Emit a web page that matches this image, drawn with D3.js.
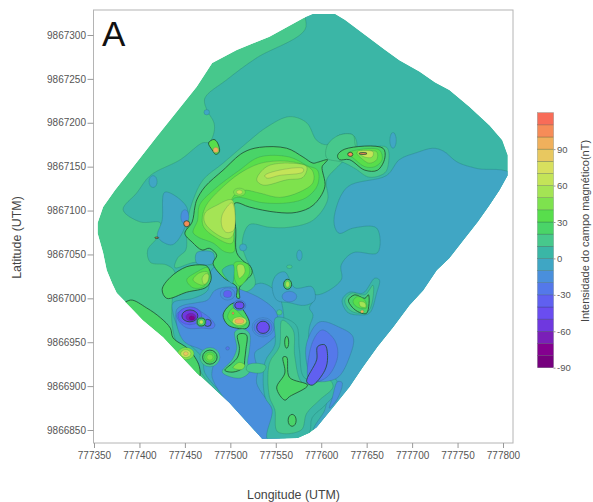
<!DOCTYPE html>
<html>
<head>
<meta charset="utf-8">
<script src="https://cdn.jsdelivr.net/npm/d3@7"></script>
<style>
  body { margin: 0; background: #fff; }
  text { font-family: "Liberation Sans", Arial, sans-serif; }
</style>
</head>
<body>
<div id="chart"></div>
<script>
// survey coordinates are kept as offsets from these two bases (metres UTM)
const eastBase = 777000, northBase = 9866000

const xTicks = [777350, 777400, 777450, 777500, 777550, 777600, 777650, 777700, 777750, 777800]
const yTicks = [9866850, 9866900, 9866950, 9867000, 9867050, 9867100, 9867150, 9867200, 9867250, 9867300]
const legendTicks = [-90, -60, -30, 0, 30, 60, 90]

// colour bands, 10 nT wide, named by their lower limit
const bandFloors = [-90, -80, -70, -60, -50, -40, -30, -20, -10, 0, 10, 20, 30, 40, 50, 60, 70, 80, 90, 100, 110]
const bandColors = ['#76007e', '#84008f', '#7a1fb8', '#6f38df', '#6a4df0', '#6060f0', '#5478ea', '#4a8fdc',
  '#3fa6c4', '#3ab6a6', '#47c88c', '#4ad468', '#58de4c', '#7ee24e', '#a4e454', '#c4e458',
  '#d8e05e', '#e8c860', '#f0b05c', '#f68c58', '#f86c58']

// survey outline
const outline = [[591,1324],[615,1324],[626,1317],[648,1300],[670,1283],[686,1271],[708,1258],[725,1246],[741,1237],
  [763,1218],[785,1197],[799,1180],[805,1163],[805,1140],[796,1123],[785,1106],[772,1087],[756,1066],[741,1046],
  [727,1032],[712,1009],[697,992],[679,967],[662,945],[646,922],[631,899],[613,876],[595,853],[587,847],[574,841],
  [535,840],[499,881],[463,915],[426,956],[404,975],[390,990],[375,1006],[370,1017],[364,1032],[360,1052],[354,1074],
  [354,1086],[360,1104],[373,1123],[419,1184],[463,1241],[480,1268],[507,1283],[543,1298],[580,1319]]

// contour rings, [east, north]
const tealMain = [[584,1334],[818,1334],[818,833],[535,833],[510,867],[472,909],[461,927],[442,947],[436,970],[436,996],
  [439,1030],[430,1038],[412,1041],[409,1055],[420,1070],[423,1086],[401,1087],[382,1101],[397,1120],[412,1140],
  [445,1158],[469,1177],[477,1178],[482,1189],[482,1200],[474,1215],[472,1228],[496,1249],[529,1274],[582,1306]]
const blueEast = [[686,1158],[705,1166],[723,1171],[734,1168],[750,1155],[771,1148],[813,1139],[813,952],[609,833],[591,847],
  [604,873],[607,888],[613,905],[587,952],[587,967],[591,981],[587,989],[591,998],[584,1013],[595,1004],[622,1021],
  [622,1038],[635,1052],[662,1052],[661,1080],[635,1080],[620,1074],[615,1081],[615,1097],[629,1127],[672,1140]]
const blueSouth = [[437,995],[459,1000],[475,1009],[478,1030],[491,1041],[502,1021],[516,1013],[536,1017],[554,1002],
  [558,941],[547,903],[551,873],[560,833],[527,833],[499,881],[472,915],[469,932],[453,950],[445,961],[437,983]]
const blueWest = [[428,1121],[452,1104],[450,1081],[436,1061],[420,1070],[425,1089]]
const blueNorthOfLow = [[551,1027],[560,1030],[571,1012],[590,1013],[593,998],[582,992],[565,995],[551,998],[546,1015]]
const blueCentre = [[463,1052],[481,1052],[481,1040],[463,1040]]
const halo = [[459,1112],[470,1135],[492,1154],[518,1177],[540,1195],[565,1207],[584,1200],[595,1180],[606,1175],[620,1186],
  [635,1186],[639,1172],[620,1152],[606,1135],[607,1112],[591,1089],[565,1081],[543,1081],[521,1084],[513,1063],[518,1044],
  [524,1032],[527,1015],[514,1007],[505,1021],[494,1041],[480,1038],[461,1041],[439,1035],[442,1046],[451,1055],[452,1072],[453,1089]]
const neHalo = [[606,1160],[607,1175],[620,1186],[635,1186],[639,1172],[672,1172],[674,1154],[670,1143],[653,1138],[637,1148],[624,1155]]
const lowWest20 = [[441,987],[448,992],[463,995],[475,998],[483,1009],[499,1013],[514,1009],[536,998],[551,983],[551,960],[536,945],
  [527,938],[530,918],[529,903],[547,873],[551,853],[554,833],[535,833],[499,878],[480,910],[481,930],[469,941],[450,950],[442,966]]
const lowWest30 = [[441,981],[448,988],[459,990],[469,984],[477,978],[483,970],[481,966],[469,966],[453,966],[445,972]]
const south0 = [[550,978],[572,970],[576,941],[582,909],[615,909],[618,896],[604,878],[590,864],[587,847],[576,839],[541,839],[546,873],[538,888],[538,927],[549,947]]
const south10 = [[557,975],[569,964],[571,933],[580,903],[609,907],[613,899],[598,884],[584,869],[578,850],[552,848],[549,873],[543,888],[543,926],[554,945]]
const south20 = [[558,933],[562,933],[565,910],[585,901],[565,888],[560,884],[551,898],[560,915]]
const lowEast20 = [[584,949],[598,973],[620,967],[635,956],[631,933],[617,909],[591,907],[584,926]]
const lowEast30 = [[590,949],[601,964],[615,952],[618,933],[606,910],[587,905]]
const lowEast40 = [[584,905],[595,930],[596,945],[604,947],[607,933],[604,918],[590,901]]
const lowStrip = [[612,886],[618,905],[623,904],[618,886],[609,875]]
const swEdge = [[390,998],[408,989],[423,978],[434,966],[437,955],[453,943],[461,933],[466,922],[466,910],[455,901],[379,987]]
const main20 = [[463,1112],[472,1127],[492,1146],[514,1166],[532,1172],[562,1171],[580,1161],[591,1154],[596,1155],[607,1158],[604,1154],
  [601,1150],[604,1127],[591,1106],[573,1098],[551,1098],[521,1104],[507,1109],[504,1107],[506,1078],[507,1052],[516,1041],[521,1038],
  [524,1029],[510,1012],[510,1000],[507,1001],[507,1013],[492,1024],[481,1040],[485,1049],[477,1057],[469,1055],[458,1064],[450,1074],[458,1087],[461,1104]]
const main30 = [[466,1106],[481,1123],[510,1146],[532,1161],[565,1161],[585,1151],[596,1146],[596,1129],[584,1115],[565,1109],[535,1109],
  [510,1115],[503,1113],[503,1078],[504,1053],[494,1053],[481,1063],[466,1069],[459,1075],[464,1089]]
const main40 = [[472,1103],[494,1129],[516,1146],[538,1155],[571,1155],[590,1146],[591,1132],[576,1121],[554,1115],[532,1120],[514,1123],
  [502,1114],[502,1063],[483,1070],[470,1083]]
const upper50 = [[529,1135],[540,1150],[565,1154],[584,1150],[580,1138],[562,1135],[536,1129]]
const lower50 = [[472,1097],[485,1106],[502,1112],[503,1072],[497,1068],[485,1073],[472,1086]]
const upper60 = [[538,1140],[554,1146],[580,1148],[580,1144],[554,1140],[540,1137]]
const lower60 = [[491,1095],[502,1109],[504,1078],[496,1075],[491,1081]]
const wallHole = [[503,1038],[491,1032],[502,1017],[504,1026]]
const wall30 = [[505,1041],[519,1039],[521,1028],[510,1014],[505,1021]]
const wall50 = [[508,1038],[514,1038],[516,1030],[510,1023],[508,1029]]
const nwSpot = [[476,1177],[482,1181],[486,1177],[488,1167],[484,1164],[480,1169]]
const blob20 = [[425,1010],[434,1024],[452,1036],[470,1038],[475,1036],[479,1023],[474,1013],[452,1007],[430,1000]]
const blob30 = [[452,1021],[463,1030],[475,1035],[477,1023],[470,1013],[459,1012]]
const blob40 = [[459,1021],[466,1029],[475,1030],[475,1021],[470,1015]]
const blob50 = [[469,1023],[473,1028],[476,1027],[475,1019],[471,1016]]
const centre20 = [[492,981],[499,992],[507,995],[514,987],[521,972],[518,966],[507,966],[497,970]]
const centre30 = [[497,979],[503,989],[510,983],[518,972],[510,967],[502,972]]
const wallLow10 = [[505,962],[514,965],[521,960],[521,941],[519,927],[521,916],[510,909],[491,916],[502,930],[507,943]]
const wallLow20 = [[508,958],[513,960],[518,958],[517,941],[516,932],[514,921],[503,916],[494,918],[502,926],[508,933],[510,943]]
const wallLow40 = [[503,921],[510,927],[516,924],[513,919]]
const eastPatch10 = [[519,924],[529,926],[539,923],[536,916],[527,915],[518,918]]
const east0 = [[623,998],[631,1007],[646,1006],[659,1023],[664,1021],[661,1006],[653,983],[642,981],[629,984]]
const east10 = [[626,998],[634,1006],[648,1004],[657,1015],[653,987],[642,983],[631,987]]
const east20 = [[630,998],[637,1004],[648,1000],[652,1004],[650,983],[642,984],[634,990]]
const east30 = [[635,997],[640,1002],[648,998],[650,989],[642,989],[637,992]]
const east50 = [[642,996],[648,995],[649,990],[643,991]]
const ne20 = [[618,1163],[626,1170],[668,1171],[670,1160],[662,1146],[648,1146],[631,1158],[620,1158]]
const ne30 = [[629,1165],[639,1169],[664,1169],[667,1158],[659,1150],[648,1150],[635,1160]]
const ne40 = [[639,1166],[661,1167],[661,1158],[653,1154],[646,1158]]
const ne60 = [[640,1167],[657,1167],[656,1161],[648,1161]]

// painted in this order: [band, heavy outline, ring]
const layers = [
  [0, false, tealMain], [-10, false, blueEast], [-10, false, blueSouth], [-10, false, blueWest], [-10, false, blueNorthOfLow],
  [10, false, halo], [10, false, neHalo], [-20, false, lowWest20], [-30, false, lowWest30],
  [0, false, south0], [10, false, south10], [20, true, south20],
  [-20, false, lowEast20], [-30, false, lowEast30], [-40, true, lowEast40], [-20, false, lowStrip],
  [20, true, swEdge], [-10, false, blueCentre],
  [20, true, main20], [30, false, main30], [40, false, main40], [50, false, upper50], [50, false, lower50], [60, false, upper60], [60, false, lower60],
  [30, false, wall30], [50, false, wall50], [0, false, wallHole], [30, true, nwSpot],
  [20, true, blob20], [30, false, blob30], [40, false, blob40], [50, false, blob50],
  [20, true, centre20], [30, false, centre30],
  [10, false, wallLow10], [20, true, wallLow20], [40, false, wallLow40], [10, false, eastPatch10],
  [0, false, east0], [10, false, east10], [20, true, east20], [30, false, east30], [50, false, east50],
  [20, true, ne20], [30, false, ne30], [40, false, ne40], [60, false, ne60]
]

// small closed anomalies: [band, heavy outline, east, north, radius east, radius north]
const spots = [
  [-10,false,415,1133,4.4,6.8], [-10,false,474,1212,3,3], [-20,false,450,1093,4.4,8], [-10,false,576,1049,3,6], [-10,false,514,1058,4,4],
  [-10,false,679,1180,3.5,9], [-20,false,565,1002,8,6], [-20,false,497,1005,8,7], [-40,false,497,1005,4.5,4], [-30,false,510,992,7,6], [-50,true,510,992,5,4],
  [-20,false,536,967,12,11], [-30,false,536,967,10,9], [-50,true,536,967,7,7], [-30,false,497,943,2,2],
  [-40,false,455.5,980,13,10], [-60,true,455.5,980,8.8,6.8], [-70,false,456.6,978.7,5.5,4.2], [-80,false,457.7,977.6,3,2.4],
  [-40,true,475,972,4,4],
  [10,false,468,973,5.5,5.5], [20,true,468,973,4.5,4.5], [60,false,468,973,2.2,2.2],
  [10,false,477.5,933,11,11], [20,true,477.5,933,8,8], [30,false,477.5,933,5.7,5.7], [40,false,477.5,933,3.4,3.4],
  [60,false,510,974,7.7,4.6], [90,false,510,974,5,2.8], [100,false,503,983,1,1.5],
  [100,true,452,1085,3.3,3.4], [90,false,484,1169,3,3],
  [20,true,563,1016,4.4,5.7], [50,false,563,1016,2.2,3.4], [20,true,562,950,2.2,6.8], [20,true,568,861,4.4,6.8],
  [40,false,510,1121,6.6,4.5], [60,false,510,1121,3.3,2.3],
  [100,true,632,1164,2.8,2.3], [100,true,646,1165,4.4,1.1], [90,false,645,985,1.8,1.8],
  [10,false,565,1036,3,2], [10,false,554,984,3,3],
  [40,false,451,937,9,7], [60,false,451,937,5.5,4.4], [80,false,451,937,2.6,2.2], [100,true,419,1069,2.2,0.8]
]

const width = 593, height = 502

// frame of the plot, a little wider than the tick range
const frame = { left: 93.5, right: 513, top: 10, bottom: 443 }

const x = d3.scaleLinear().domain([777350, 777800]).range([94, 503])
const y = d3.scaleLinear().domain([9866850, 9867300]).range([430, 35])
const legendY = d3.scaleLinear().domain([-90, 120]).range([367.7, 112.7])
const bandColor = d3.scaleOrdinal().domain(bandFloors).range(bandColors)

const svg = d3.select('#chart').append('svg')
  .attr('width', width)
  .attr('height', height)

const defs = svg.append('defs')
defs.append('filter').attr('id', 'soft')
  .attr('x', '-5%').attr('y', '-5%').attr('width', '110%').attr('height', '110%')
  .append('feGaussianBlur').attr('stdDeviation', 0.45)

const ringLine = d3.line()
  .x(d => x(eastBase + d[0]))
  .y(d => y(northBase + d[1]))
  .curve(d3.curveCatmullRomClosed.alpha(0.5))
const outlinePath = d3.line()
  .x(d => x(eastBase + d[0]))
  .y(d => y(northBase + d[1]))
  .curve(d3.curveLinearClosed)

defs.append('clipPath').attr('id', 'survey')
  .append('path').attr('d', outlinePath(outline))

const map = svg.append('g').attr('filter', 'url(#soft)')
  .append('g').attr('clip-path', 'url(#survey)')

// base of the map is the outer green band
map.append('path')
  .attr('d', outlinePath(outline))
  .attr('fill', bandColor(10))

function contourStroke(bold) {
  return bold ? '#1f4a33' : 'rgba(20,70,70,0.3)'
}

map.selectAll('path.ring')
  .data(layers)
  .join('path')
  .attr('class', 'ring')
  .attr('d', d => ringLine(d[2]))
  .attr('fill', d => bandColor(d[0]))
  .attr('stroke', d => contourStroke(d[1]))
  .attr('stroke-width', d => d[1] ? 0.8 : 0.6)

map.selectAll('ellipse.spot')
  .data(spots)
  .join('ellipse')
  .attr('class', 'spot')
  .attr('cx', d => x(eastBase + d[2]))
  .attr('cy', d => y(northBase + d[3]))
  .attr('rx', d => x(777000 + d[4]) - x(777000))
  .attr('ry', d => y(9866000) - y(9866000 + d[5]))
  .attr('fill', d => bandColor(d[0]))
  .attr('stroke', d => contourStroke(d[1]))
  .attr('stroke-width', d => d[1] ? 0.8 : 0.5)

// frame and axes
svg.append('rect')
  .attr('x', frame.left).attr('y', frame.top)
  .attr('width', frame.right - frame.left).attr('height', frame.bottom - frame.top)
  .attr('fill', 'none').attr('stroke', '#b4b4b4')

const xAxis = svg.append('g')
  .attr('transform', `translate(0,${frame.bottom})`)
  .call(d3.axisBottom(x).tickValues(xTicks).tickFormat(d3.format('d')).tickSize(5).tickPadding(4).tickSizeOuter(0))
const yAxis = svg.append('g')
  .attr('transform', `translate(${frame.left},0)`)
  .call(d3.axisLeft(y).tickValues(yTicks).tickFormat(d3.format('d')).tickSize(6).tickPadding(1.5).tickSizeOuter(0))

;[xAxis, yAxis].forEach(function(axis) {
  axis.select('.domain').remove()
  axis.selectAll('line').attr('stroke', '#999')
  axis.selectAll('text').attr('fill', '#555').style('font-size', '10px')
})

svg.append('text').text('A')
  .attr('x', 102).attr('y', 46)
  .style('font-size', '35px').attr('fill', '#111')

svg.append('text').text('Longitude (UTM)')
  .attr('x', 293.5).attr('y', 499).attr('text-anchor', 'middle')
  .style('font-size', '12.4px').attr('fill', '#444')

svg.append('text').text('Latitude (UTM)')
  .attr('transform', 'translate(21,237.5) rotate(-90)').attr('text-anchor', 'middle')
  .style('font-size', '12.4px').attr('fill', '#444')

// colour legend
const legend = svg.append('g')
legend.selectAll('rect')
  .data(bandFloors)
  .join('rect')
  .attr('x', 537.5)
  .attr('width', 16)
  .attr('y', d => legendY(d + 10))
  .attr('height', d => legendY(d) - legendY(d + 10))
  .attr('fill', d => bandColor(d))
  .attr('stroke', 'rgba(30,60,50,0.45)')
  .attr('stroke-width', 0.5)

const legendAxis = svg.append('g')
  .attr('transform', 'translate(553.5,0)')
  .call(d3.axisRight(legendY).tickValues(legendTicks).tickFormat(d => String(d)).tickSize(2).tickPadding(1.5).tickSizeOuter(0))
legendAxis.select('.domain').remove()
legendAxis.selectAll('line').attr('stroke', '#999')
legendAxis.selectAll('text').attr('fill', '#555').style('font-size', '9.5px')

svg.append('text').text('Intensidade do campo magnético(nT)')
  .attr('transform', 'translate(589,231) rotate(-90)').attr('text-anchor', 'middle')
  .style('font-size', '11px').attr('fill', '#444')
</script>
</body>
</html>
